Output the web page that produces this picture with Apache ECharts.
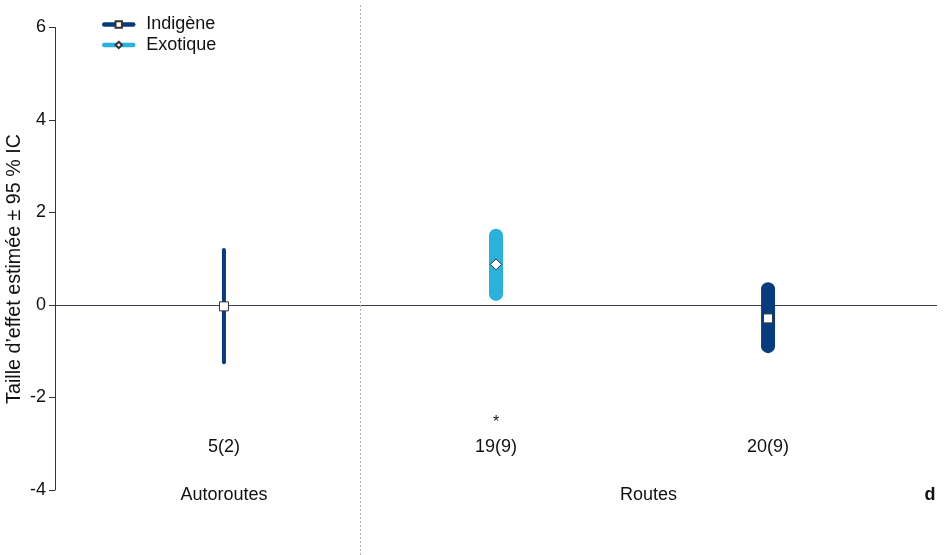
<!DOCTYPE html>
<html>
<head>
<meta charset="utf-8">
<script src="https://cdn.jsdelivr.net/npm/echarts@6/dist/echarts.min.js"></script>
<style>html,body{margin:0;padding:0;background:#fff}#c{width:944px;height:555px}</style>
</head>
<body>
<div id="c"></div>
<script>
// ---- data ----
const groups = ['Autoroutes', 'Routes'];
const itemGroup = [0, 1, 1];
const itemOrigin = ['Indigène', 'Exotique', 'Indigène'];
const itemX = [1, 2, 3];
const means = [-0.03, 0.88, -0.29];
const ciLow = [-1.24, 0.24, -0.89];
const ciHigh = [1.19, 1.50, 0.34];
const sampleLabels = ['5(2)', '19(9)', '20(9)'];
const sampleN = [5, 19, 20];
const significance = ['', '*', ''];
const yTicks = [-4, -2, 0, 2, 4, 6];
const origins = ['Indigène', 'Exotique'];

// ---- styles ----
const FONT = '"Liberation Sans", Arial, Helvetica, sans-serif';
const colors = { 'Indigène': '#083b7b', 'Exotique': '#2bb1da' };
const symbols = { 'Indigène': 'rect', 'Exotique': 'diamond' };
const symSizes = { 'Indigène': 9, 'Exotique': 11 };
const xMin = 0.379, xMax = 3.621;
const divider = 1.5;

const chart = echarts.init(document.getElementById('c'), null, { renderer: 'canvas' });

const barData = itemX.map((x, i) => [x, ciLow[i], ciHigh[i], origins.indexOf(itemOrigin[i]), sampleN[i]]);

const markerSeries = origins.map(o => ({
  name: o,
  type: 'line',
  data: itemX.map((x, i) => itemOrigin[i] === o ? [x, means[i]] : null).filter(d => d),
  symbol: symbols[o],
  symbolSize: symSizes[o],
  showAllSymbol: true,
  color: colors[o],
  itemStyle: { color: '#fff', borderColor: '#333', borderWidth: 1 },
  lineStyle: { color: colors[o], width: 4, opacity: 0 },
  z: 5,
  silent: true,
  animation: false
}));

const labelData = itemX.map((x, i) => [x, sampleLabels[i], significance[i]]);

const option = {
  animation: false,
  backgroundColor: '#fff',
  textStyle: { fontFamily: FONT },
  grid: { left: 55, right: 7, top: 27.5, bottom: 65 },
  legend: {
    orient: 'vertical',
    left: 97,
    top: 10.5,
    itemWidth: 29,
    itemHeight: 8,
    itemGap: 2.5,
    data: origins,
    textStyle: { fontSize: 18, color: '#111', fontFamily: FONT, lineHeight: 18, padding: [0, 0, 0, 8] },
    lineStyle: { width: 4.5, opacity: 1, cap: 'round' }
  },
  xAxis: {
    type: 'value', min: xMin, max: xMax,
    show: false
  },
  yAxis: {
    type: 'value', min: yTicks[0], max: yTicks[yTicks.length - 1], interval: 2,
    axisLine: { show: true, onZero: false, lineStyle: { color: '#333', width: 1 } },
    axisTick: { show: true, length: 6, lineStyle: { color: '#333' } },
    axisLabel: { fontSize: 18, color: '#111', fontFamily: FONT, margin: 9 },
    splitLine: { show: false }
  },
  series: [
    {
      type: 'custom',
      name: 'ci',
      data: barData,
      clip: false,
      silent: true,
      z: 3,
      renderItem: function (params, api) {
        const x = api.value(0);
        const p1 = api.coord([x, api.value(2)]);
        const p2 = api.coord([x, api.value(1)]);
        const o = origins[api.value(3)];
        const w = api.value(4) >= 10 ? 14 : 4;
        return {
          type: 'line',
          shape: { x1: p1[0], y1: p1[1], x2: p2[0], y2: p2[1] },
          style: { stroke: colors[o], lineWidth: w, lineCap: 'round' }
        };
      }
    },
    {
      type: 'custom',
      name: 'refs',
      data: [[0]],
      clip: false,
      silent: true,
      z: 1,
      renderItem: function (params, api) {
        const zl = api.coord([xMin, 0]);
        const zr = api.coord([xMax, 0]);
        const dv = api.coord([divider, 0]);
        const zy = Math.round(zl[1]) + 0.5;
        const dx = Math.round(dv[0]) + 0.5;
        return {
          type: 'group',
          children: [
            { type: 'line', shape: { x1: zl[0], y1: zy, x2: zr[0], y2: zy }, style: { stroke: '#3a3f4a', lineWidth: 1 } },
            { type: 'line', z2: 2, shape: { x1: dx, y1: 5, x2: dx, y2: 555 }, style: { stroke: '#b0b0b0', lineWidth: 1, lineDash: [2, 2] } }
          ]
        };
      }
    },
    {
      type: 'custom',
      name: 'labels',
      data: labelData,
      clip: false,
      silent: true,
      z: 4,
      renderItem: function (params, api) {
        const x = api.value(0);
        const i = params.dataIndex;
        const pc = api.coord([x, -3.07]);
        const ps = api.coord([x, -2.55]);
        const children = [
          { type: 'text', x: pc[0], y: pc[1], style: { text: sampleLabels[i], font: '18px ' + FONT, fill: '#111', textAlign: 'center', textVerticalAlign: 'middle' } }
        ];
        if (significance[i]) {
          children.push({ type: 'text', x: ps[0], y: ps[1], style: { text: significance[i], font: '16px ' + FONT, fill: '#111', textAlign: 'center', textVerticalAlign: 'middle' } });
        }
        return { type: 'group', children: children };
      }
    },
    {
      type: 'custom',
      name: 'groups',
      data: groups.map((g, gi) => [gi]),
      clip: false,
      silent: true,
      z: 4,
      renderItem: function (params, api) {
        const gi = params.dataIndex;
        const xs = itemX.filter((x, i) => itemGroup[i] === gi);
        const cx = xs.length === 1 ? xs[0] : (divider + xMax) / 2;
        const p = api.coord([cx, -4.11]);
        return { type: 'text', x: p[0], y: p[1], style: { text: groups[gi], font: '18px ' + FONT, fill: '#111', textAlign: 'center', textVerticalAlign: 'middle' } };
      }
    }
  ].concat(markerSeries),
  graphic: [
    {
      type: 'text', x: 15, y: 269, rotation: Math.PI / 2,
      style: { text: 'Taille d\u2019effet estimée ± 95 % IC', font: '19.7px ' + FONT, fill: '#111', textAlign: 'center', textVerticalAlign: 'middle' }
    },
    {
      type: 'text', x: 930, y: 495,
      style: { text: 'd', font: 'bold 18px ' + FONT, fill: '#111', textAlign: 'center', textVerticalAlign: 'middle' }
    }
  ]
};
chart.setOption(option);
</script>
</body>
</html>
